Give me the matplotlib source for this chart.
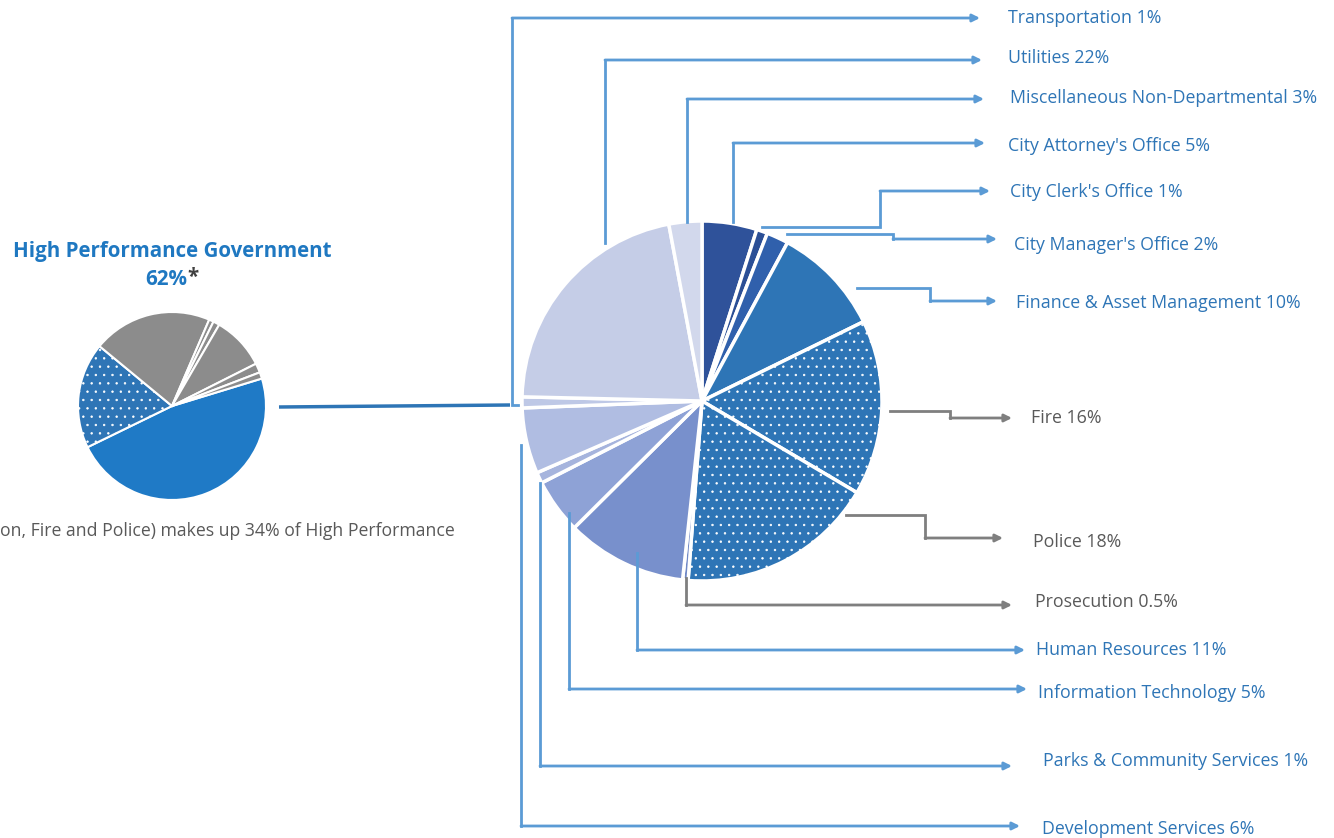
import matplotlib
matplotlib.use("Agg")
import matplotlib.pyplot as plt

plt.rcParams["font.family"] = ["Open Sans", "DejaVu Sans"]
plt.rcParams["hatch.linewidth"] = 0.5

# Department shares of the High Performance Government budget (%)
departments = [
    "City Attorney's Office", "City Clerk's Office", "City Manager's Office",
    "Finance & Asset Management", "Fire", "Police", "Prosecution",
    "Human Resources", "Information Technology", "Parks & Community Services",
    "Development Services", "Transportation", "Utilities",
    "Miscellaneous Non-Departmental",
]
dept_shares = [5, 1, 2, 10, 16, 18, 0.5, 11, 5, 1, 6, 1, 22, 3]
dept_labels = [f"{d} {s:g}%" for d, s in zip(departments, dept_shares)]
public_safety = ["Fire", "Police", "Prosecution"]

# Overall budget split (small pie), going clockwise from the blue slice
overall_shares = [47.5, 18.2, 20.5, 0.8, 1.1, 9.2, 1.6, 1.1]

dept_colors = ["#2F529A", "#2B4F96", "#3060AC", "#2E75B6", "#2E75B6", "#2E75B6",
               "#6F88C6", "#7890CC", "#8EA2D6", "#A6B4DD", "#B0BDE2", "#BEC8E6",
               "#C5CDE7", "#D2D8EC"]
dept_hatch = [None, None, None, None, "..", "..", None, None, None, None,
              None, None, None, None]
overall_colors = ["#1F7AC6", "#2E75B6", "#8C8C8C", "#8C8C8C", "#8C8C8C",
                  "#8C8C8C", "#8C8C8C", "#8C8C8C"]
overall_hatch = [None, "..", None, None, None, None, None, None]

BLUE_TXT = "#2E75B6"
BLUE_LINE = "#5B9BD5"
GRAY_TXT = "#595959"
GRAY_LINE = "#7F7F7F"

# Leader routes in pixel coords (y down): points ending at the arrow tip,
# plus where the label text starts
leaders = [
    ([(518, 405), (512, 405), (512, 18), (980, 18)], (1008, 18)),
    ([(605, 243), (605, 60), (982, 60)], (1008, 58)),
    ([(687, 222), (687, 99), (984, 99)], (1010, 98)),
    ([(733, 222), (733, 143), (985, 143)], (1008, 146)),
    ([(762, 227), (880, 227), (880, 191), (990, 191)], (1010, 192)),
    ([(787, 234), (893, 234), (893, 239), (997, 239)], (1014, 245)),
    ([(857, 288), (930, 288), (930, 301), (997, 301)], (1016, 303)),
    ([(890, 411), (950, 411), (950, 418), (1012, 418)], (1031, 418)),
    ([(846, 515), (925, 515), (925, 538), (1003, 538)], (1033, 542)),
    ([(686, 578), (686, 605), (1012, 605)], (1035, 602)),
    ([(637, 553), (637, 650), (1025, 650)], (1036, 650)),
    ([(569, 513), (569, 689), (1027, 689)], (1038, 693)),
    ([(540, 483), (540, 766), (1012, 766)], (1043, 761)),
    ([(521, 445), (521, 826), (1020, 826)], (1042, 829)),
]
# leaders listed in the order: Transportation, Utilities, Misc, then clockwise
leader_order = [11, 12, 13, 0, 1, 2, 3, 4, 5, 6, 7, 8, 9, 10]

W, H = 1334, 838
fig = plt.figure(figsize=(W / 100, H / 100), dpi=100)
ax = fig.add_axes([0, 0, 1, 1])

# y axis runs downward, so pies are drawn counterclock in data to look clockwise
big, _ = ax.pie(dept_shares, colors=dept_colors, startangle=-90, counterclock=True,
                center=(702, 401), radius=180,
                wedgeprops=dict(edgecolor="white", linewidth=2.5))
for w, h in zip(big, dept_hatch):
    if h:
        w.set_hatch(h)

small, _ = ax.pie(overall_shares, colors=overall_colors, startangle=-17,
                  counterclock=True, center=(172, 406), radius=94,
                  wedgeprops=dict(edgecolor="white", linewidth=1.5))
for w, h in zip(small, overall_hatch):
    if h:
        w.set_hatch(h)

ax.set_xlim(0, W)
ax.set_ylim(H, 0)
ax.set_aspect("equal")
ax.axis("off")

# connector between the two pies
ax.plot([279, 510], [407, 405], color="#2E75B6", lw=2.5, solid_capstyle="butt")

for idx, (route, (tx, ty)) in zip(leader_order, leaders):
    gray = departments[idx] in public_safety
    lc = GRAY_LINE if gray else BLUE_LINE
    tc = GRAY_TXT if gray else BLUE_TXT
    xs = [p[0] for p in route[:-1]]
    ys = [p[1] for p in route[:-1]]
    ax.plot(xs, ys, color=lc, lw=2, solid_joinstyle="miter")
    ax.annotate("", xy=route[-1], xytext=route[-2],
                arrowprops=dict(arrowstyle="-|>", color=lc, lw=2,
                                mutation_scale=11, shrinkA=0, shrinkB=0))
    ax.text(tx, ty, dept_labels[idx], color=tc, fontsize=12.8,
            ha="left", va="center")

ax.text(172, 251, "High Performance Government", color="#1F78C1",
        fontsize=14.8, fontweight="bold", ha="center", va="center")
ax.text(187, 279, "62%", color="#1F78C1", fontsize=14.8, fontweight="bold",
        ha="right", va="center")
ax.text(187, 277, "*", color="#404040", fontsize=14.8, fontweight="bold",
        ha="left", va="center")
ax.text(0, 531, "on, Fire and Police) makes up 34% of High Performance",
        color=GRAY_TXT, fontsize=12.7, ha="left", va="center")

fig.savefig("out.png", dpi=100, facecolor="white")
